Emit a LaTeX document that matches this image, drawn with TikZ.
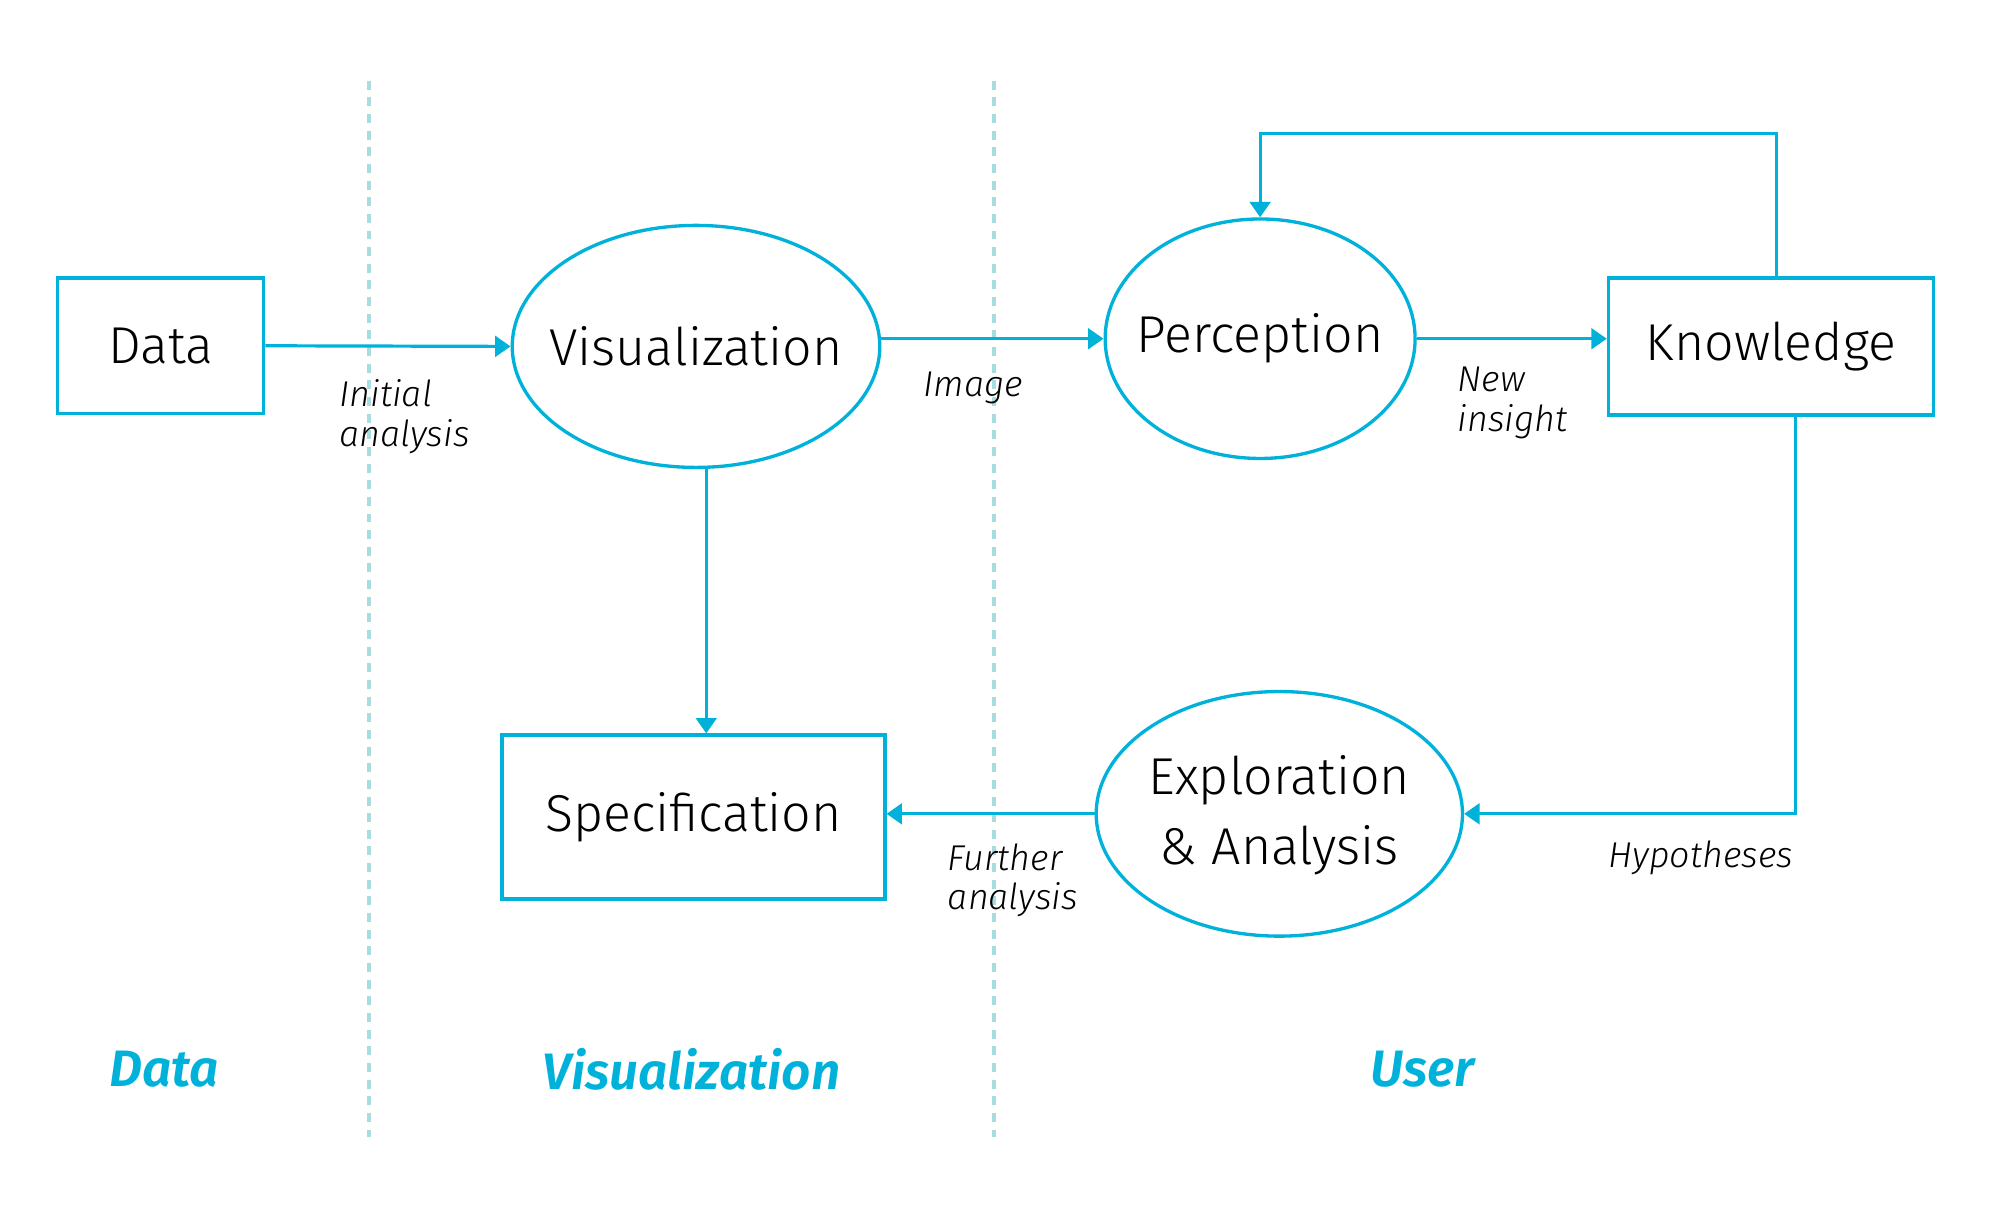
\documentclass[tikz,border=0pt]{standalone}
\usepackage{fontspec}
\setmainfont{Fira Sans Light}[ItalicFont={Fira Sans Light Italic},BoldFont={Fira Sans SemiBold},BoldItalicFont={Fira Sans SemiBold Italic}]
\usetikzlibrary{arrows.meta,shapes.geometric,calc}
\definecolor{cy}{RGB}{0,178,218}
\definecolor{dl}{RGB}{168,220,222}
\begin{document}
\begin{tikzpicture}[x=1pt,y=-1pt,
  every node/.style={inner sep=0pt},
  boxnode/.style={draw=cy,line width=2.6pt,rectangle,font=\fontsize{40.5}{48}\selectfont},
  ellnode/.style={draw=cy,line width=2.6pt,ellipse},
  elltext/.style={align=center,font=\fontsize{40.5}{55}\selectfont},
  conn/.style={draw=cy,line width=2.5pt},
  arr/.style={conn,-{Triangle[length=12pt,width=16pt]}},
  lbl/.style={font=\fontsize{28}{31}\selectfont\itshape,align=left,anchor=west},
  lane/.style={font=\fontsize{40}{48}\selectfont\bfseries\itshape,text=cy},
  sep/.style={draw=dl,line width=3pt,dash pattern=on 7pt off 6pt}
]
\useasboundingbox (0,0) rectangle (1568,947.2);
% separators
\coordinate (s1t) at (288,63); \coordinate (s1b) at (288,888);
\coordinate (s2t) at (776,63); \coordinate (s2b) at (776,888);
\draw[sep] (s1t) -- (s1b);
\draw[sep] (s2t) -- (s2b);
% nodes
\node[boxnode,minimum width=161pt,minimum height=106pt] (data) at (125.5,270) {Data};
\node[ellnode,minimum width=287pt,minimum height=189pt] (vis) at (543.5,270.5) {};
\node[elltext] (vist) at (vis.center) {Visualization};
\node[ellnode,minimum width=242pt,minimum height=187pt] (per) at (984,264.5) {};
\node[elltext] (pert) at (per.center) {Perception};
\node[boxnode,minimum width=254pt,minimum height=107pt] (kn) at (1383,270.5) {Knowledge};
\node[boxnode,minimum width=299pt,minimum height=128pt] (spec) at (541.5,638) {Specification};
\node[ellnode,minimum width=286pt,minimum height=191pt] (exp) at (999,635.5) {};
\node[elltext] (expt) at ($(exp.center)+(0,1)$) {Exploration\\\& Analysis};
% connectors
\draw[arr] (data.east) -- (vis.west);
\draw[arr] (vis.east |- per.west) -- (per.west);
\draw[arr] (per.east) -- (per.east -| kn.west);
\coordinate (k1) at ($(kn.north)+(4,0)$);
\coordinate (ktop) at (1387,104);
\draw[arr] (k1) -- (k1 |- ktop) -| (per.north);
\coordinate (k2) at ($(kn.south)+(19,0)$);
\draw[arr] (k2) |- (exp.east);
\draw[arr] (exp.west) -- (exp.west -| spec.east);
\coordinate (v1) at ($(vis.south)+(8,0)$);
\draw[arr] (v1) -- (v1 |- spec.north);
% labels
\node[lbl] (l1) at (265,325.5) {Initial\\analysis};
\node[lbl] (l2) at (721,303) {Image};
\node[lbl] (l3) at (1138,314.5) {New\\insight};
\node[lbl] (l4) at (740,687.5) {Further\\analysis};
\node[lbl] (l5) at (1256,670) {Hypotheses};
% lanes
\node[lane] (ld) at (128,835) {Data};
\node[lane] (lv) at (540,835) {Visualization};
\node[lane] (lu) at (1111,835) {User};
\end{tikzpicture}
\end{document}
